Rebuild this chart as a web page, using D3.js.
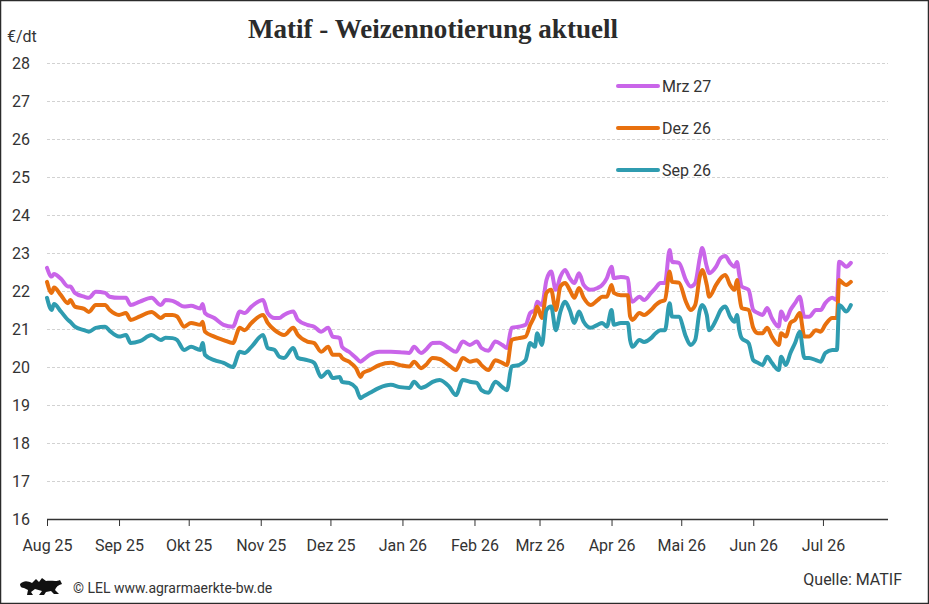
<!DOCTYPE html>
<html>
<head>
<meta charset="utf-8">
<script src="https://cdnjs.cloudflare.com/ajax/libs/d3/7.8.5/d3.min.js"></script>
<style>
  body { margin: 0; background: #fff; }
  svg { display: block; }
  text { font-family: Roboto, "Liberation Sans", sans-serif; fill: #333; }
</style>
</head>
<body>
<svg id="chart"></svg>
<script>
"use strict";

// Kursdaten (€/dt)
var dates = ["2025-08-01","2025-08-03","2025-08-04","2025-08-07","2025-08-10","2025-08-11","2025-08-13","2025-08-17","2025-08-19","2025-08-22",
  "2025-08-26","2025-08-28","2025-09-01","2025-09-04","2025-09-06","2025-09-10","2025-09-15","2025-09-19","2025-09-21","2025-09-24",
  "2025-09-26","2025-09-29","2025-10-02","2025-10-06","2025-10-07","2025-10-08","2025-10-12","2025-10-16","2025-10-20","2025-10-23",
  "2025-10-25","2025-10-28","2025-11-02","2025-11-04","2025-11-07","2025-11-09","2025-11-11","2025-11-15","2025-11-17","2025-11-21",
  "2025-11-24","2025-11-27","2025-11-30","2025-12-02","2025-12-05","2025-12-06","2025-12-09","2025-12-12","2025-12-14","2025-12-15",
  "2025-12-18","2025-12-22","2025-12-27","2025-12-31","2026-01-04","2026-01-06","2026-01-09","2026-01-11","2026-01-14","2026-01-17",
  "2026-01-21","2026-01-24","2026-01-27","2026-01-30","2026-02-02","2026-02-04","2026-02-07","2026-02-10","2026-02-13","2026-02-15",
  "2026-02-17","2026-02-20","2026-02-23","2026-02-25","2026-02-27","2026-02-28","2026-03-02","2026-03-04","2026-03-06","2026-03-08",
  "2026-03-10","2026-03-12","2026-03-14","2026-03-16","2026-03-18","2026-03-20","2026-03-23","2026-03-26","2026-03-28","2026-03-30",
  "2026-04-01","2026-04-02","2026-04-05","2026-04-08","2026-04-09","2026-04-10","2026-04-13","2026-04-15","2026-04-18","2026-04-20",
  "2026-04-22","2026-04-24","2026-04-26","2026-04-27","2026-04-30","2026-05-03","2026-05-05","2026-05-07","2026-05-09","2026-05-10",
  "2026-05-12","2026-05-13","2026-05-16","2026-05-18","2026-05-20","2026-05-22","2026-05-24","2026-05-25","2026-05-26","2026-05-27",
  "2026-05-30","2026-06-01","2026-06-03","2026-06-05","2026-06-07","2026-06-09","2026-06-12","2026-06-13","2026-06-15","2026-06-17",
  "2026-06-19","2026-06-21","2026-06-23","2026-06-25","2026-06-28","2026-06-30","2026-07-02","2026-07-05","2026-07-07","2026-07-08",
  "2026-07-09","2026-07-11","2026-07-13"];

var sep26 = [21.82,21.50,21.66,21.46,21.24,21.19,21.06,20.97,20.93,21.03,
  21.06,20.95,20.80,20.84,20.63,20.68,20.84,20.71,20.77,20.76,
  20.71,20.45,20.53,20.45,20.63,20.32,20.18,20.11,20.00,20.40,
  20.37,20.53,20.84,20.50,20.45,20.27,20.24,20.50,20.24,20.18,
  20.11,19.74,19.88,19.71,19.74,19.61,19.58,19.45,19.18,19.22,
  19.32,19.45,19.53,19.47,19.45,19.61,19.45,19.49,19.61,19.66,
  19.49,19.26,19.66,19.61,19.58,19.39,19.32,19.61,19.47,19.39,
  20.01,20.05,20.18,20.63,20.53,20.89,20.58,21.50,21.59,20.97,
  21.46,21.72,21.50,21.16,21.46,21.19,21.03,21.11,21.16,21.06,
  21.50,21.11,21.16,21.16,20.71,20.53,20.71,20.66,20.76,20.89,
  20.97,20.97,21.68,21.33,21.32,20.80,20.58,20.71,21.50,21.63,
  21.37,20.97,21.24,21.50,21.59,21.33,21.19,21.37,20.97,20.76,
  20.63,20.18,20.11,20.05,20.27,20.11,19.92,20.27,20.05,20.37,
  20.63,20.93,20.24,20.24,20.18,20.14,20.37,20.45,20.45,21.63,
  21.59,21.46,21.63];

var dez26 = [22.24,21.95,22.09,21.89,21.68,21.76,21.59,21.53,21.45,21.63,
  21.63,21.50,21.37,21.42,21.24,21.33,21.45,21.29,21.37,21.37,
  21.33,21.06,21.16,21.11,21.19,20.93,20.80,20.71,20.63,21.03,
  20.97,21.16,21.37,21.16,20.97,20.89,20.84,21.03,20.84,20.67,
  20.63,20.40,20.53,20.32,20.32,20.24,20.14,19.97,19.74,19.84,
  19.92,20.05,20.11,20.05,20.01,20.14,19.97,20.05,20.24,20.21,
  20.05,19.92,20.24,20.14,20.18,20.05,19.92,20.18,20.11,20.05,
  20.71,20.76,20.80,21.11,21.37,21.59,21.29,21.95,22.03,21.50,
  22.12,22.21,22.03,21.82,22.08,21.82,21.63,21.76,21.85,21.85,
  22.16,21.95,21.89,21.89,21.33,21.24,21.42,21.37,21.50,21.63,
  21.72,21.76,22.51,22.24,22.22,21.72,21.50,21.63,22.38,22.55,
  22.16,21.85,22.16,22.34,22.42,22.16,22.03,22.29,21.89,21.55,
  21.50,21.03,20.89,20.89,21.03,20.80,20.58,20.89,20.80,21.16,
  21.24,21.42,20.80,20.80,20.97,20.93,21.11,21.29,21.29,22.29,
  22.24,22.16,22.24];

var mrz27 = [22.61,22.38,22.45,22.32,22.12,22.12,21.95,21.85,21.82,21.98,
  21.95,21.85,21.82,21.82,21.63,21.72,21.82,21.63,21.76,21.74,
  21.68,21.59,21.61,21.54,21.66,21.42,21.29,21.11,21.06,21.46,
  21.42,21.59,21.76,21.42,21.29,21.29,21.37,21.46,21.24,21.11,
  21.06,20.93,21.03,20.80,20.76,20.53,20.40,20.24,20.14,20.18,
  20.32,20.40,20.40,20.39,20.37,20.53,20.37,20.45,20.63,20.64,
  20.50,20.40,20.67,20.58,20.67,20.50,20.43,20.67,20.58,20.50,
  21.03,21.06,21.11,21.42,21.50,21.72,21.63,22.29,22.51,22.03,
  22.38,22.55,22.34,22.21,22.47,22.16,22.03,22.08,22.16,22.34,
  22.64,22.34,22.37,22.34,21.85,21.72,21.85,21.76,21.95,22.08,
  22.21,22.21,23.08,22.77,22.74,22.29,22.12,22.21,22.87,23.13,
  22.64,22.47,22.64,22.87,22.92,22.74,22.64,22.76,22.42,22.12,
  22.03,21.50,21.42,21.37,21.55,21.29,21.06,21.46,21.24,21.50,
  21.68,21.85,21.32,21.32,21.50,21.50,21.68,21.82,21.76,22.77,
  22.74,22.64,22.74];

var seriesNames = ["Mrz 27", "Dez 26", "Sep 26"];
var seriesColors = ["#c965e9", "#e8700e", "#2f9cb0"];
var monthLabels = ["Aug 25","Sep 25","Okt 25","Nov 25","Dez 25","Jan 26","Feb 26","Mrz 26","Apr 26","Mai 26","Jun 26","Jul 26"];
var yTicks = [16,17,18,19,20,21,22,23,24,25,26,27,28];

var width = 929
  , height = 604
  , plotLeft = 47
  , plotRight = 888
  , plotTop = 63
  , plotBottom = 519;

var parse = d3.timeParse("%Y-%m-%d");
var days = dates.map(parse);

var svg = d3.select("#chart")
  .attr("width", width)
  .attr("height", height);

svg.append("rect")
  .attr("x", 0.5).attr("y", 0.5)
  .attr("width", width - 1).attr("height", height - 1)
  .attr("fill", "#fff")
  .attr("stroke", "#2b2b2b")
  .attr("stroke-width", 1.5);

var x = d3.scaleTime()
  .domain([new Date(2025, 7, 1), new Date(2026, 6, 29)])
  .range([plotLeft, plotRight]);

var y = d3.scaleLinear()
  .domain([16, 28])
  .range([plotBottom, plotTop]);

// gridlines
svg.append("g")
  .selectAll("line")
  .data(yTicks.slice(1))
  .enter()
  .append("line")
  .attr("x1", plotLeft)
  .attr("x2", plotRight)
  .attr("y1", function (d) { return y(d) + 0.5; })
  .attr("y2", function (d) { return y(d) + 0.5; })
  .attr("stroke", "#d2d2d2")
  .attr("stroke-dasharray", "3,2");

// y labels
svg.append("g")
  .selectAll("text")
  .data(yTicks)
  .enter()
  .append("text")
  .attr("x", 30)
  .attr("y", function (d) { return y(d); })
  .attr("dy", "0.36em")
  .attr("text-anchor", "end")
  .style("font-size", "16px")
  .text(function (d) { return d; });

// x axis
var months = d3.timeMonth.range(new Date(2025, 7, 1), new Date(2026, 7, 1));
var xAxis = d3.axisBottom(x)
  .tickValues(months)
  .tickSize(7)
  .tickPadding(14)
  .tickFormat(function (d, i) { return monthLabels[i]; });

var gx = svg.append("g")
  .attr("transform", "translate(0," + plotBottom + ")")
  .call(xAxis);

gx.select(".domain")
  .attr("d", "M" + plotLeft + ",0.5H" + plotRight)
  .attr("stroke", "#333")
  .attr("stroke-width", 1.5);
gx.selectAll(".tick line").attr("stroke", "#333");
gx.selectAll(".tick text")
  .style("font-family", "Roboto, 'Liberation Sans', sans-serif")
  .style("font-size", "16px")
  .attr("fill", "#333");

// lines
var line = d3.line()
  .x(function (d, i) { return x(days[i]); })
  .y(function (d) { return y(d); })
  .curve(d3.curveMonotoneX);

[mrz27, dez26, sep26].forEach(function (values, k) {
  svg.append("path")
    .attr("d", line(values))
    .attr("fill", "none")
    .attr("stroke", seriesColors[k])
    .attr("stroke-width", 4)
    .attr("stroke-linejoin", "round")
    .attr("stroke-linecap", "round");
});

// legend
var legend = svg.append("g");
seriesNames.forEach(function (name, i) {
  var ly = 86 + i * 42;
  legend.append("line")
    .attr("x1", 618).attr("x2", 658)
    .attr("y1", ly).attr("y2", ly)
    .attr("stroke", seriesColors[i])
    .attr("stroke-width", 4)
    .attr("stroke-linecap", "round");
  legend.append("text")
    .attr("x", 662)
    .attr("y", ly)
    .attr("dy", "0.36em")
    .style("font-size", "16px")
    .text(name);
});

// title and unit
svg.append("text")
  .attr("x", 433)
  .attr("y", 38)
  .attr("text-anchor", "middle")
  .attr("textLength", 370)
  .attr("lengthAdjust", "spacingAndGlyphs")
  .style("font-family", "'Liberation Serif', 'DejaVu Serif', serif")
  .style("font-weight", "bold")
  .style("font-size", "27px")
  .style("fill", "#2b2b2b")
  .text("Matif - Weizennotierung aktuell");

svg.append("text")
  .attr("x", 7)
  .attr("y", 42)
  .style("font-size", "16px")
  .text("€/dt");

// footer
svg.append("path")
  .attr("transform", "translate(18,576)")
  .attr("fill", "#111")
  .attr("d", "M2,8 C6,4 10,5 14,7 L18,3 L21,6 L24,2 L28,5 C33,4 38,6 42,4 L44,8 C40,9 38,11 37,14 L41,18 L36,18 L33,15 L28,16 L26,19 L21,19 L24,15 L17,13 L13,16 L15,19 L9,19 L10,14 L6,12 C4,12 2,11 2,8 Z");

svg.append("text")
  .attr("x", 73)
  .attr("y", 593)
  .style("font-size", "14px")
  .text("© LEL www.agrarmaerkte-bw.de");

svg.append("text")
  .attr("x", 902)
  .attr("y", 585)
  .attr("text-anchor", "end")
  .style("font-size", "16px")
  .text("Quelle: MATIF");
</script>
</body>
</html>
